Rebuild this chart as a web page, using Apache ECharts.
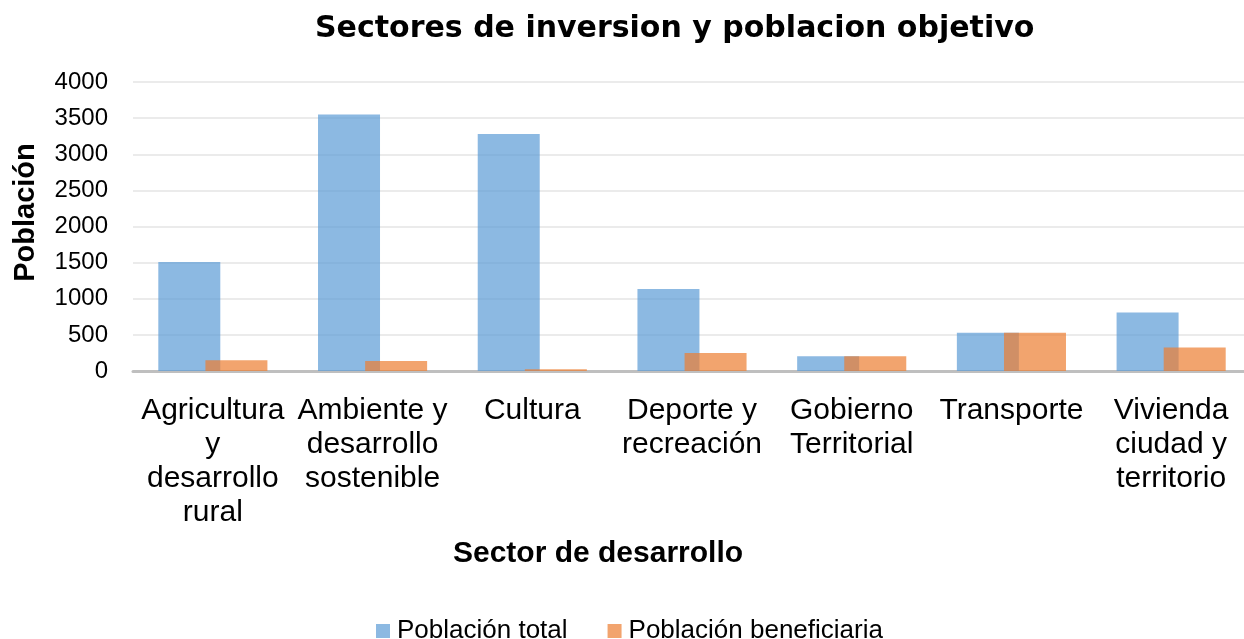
<!DOCTYPE html>
<html>
<head>
<meta charset="utf-8">
<script src="https://cdn.jsdelivr.net/npm/echarts@6/dist/echarts.min.js"></script>
<style>
  html, body { margin: 0; padding: 0; background: #fff; }
  #chart { width: 1244px; height: 639px; }
</style>
</head>
<body>
<div id="chart"></div>
<script>
// sectores y valores
const sectores = [
  "Agricultura\ny\ndesarrollo\nrural",
  "Ambiente y\ndesarrollo\nsostenible",
  "Cultura",
  "Deporte y\nrecreación",
  "Gobierno\nTerritorial",
  "Transporte",
  "Vivienda\nciudad y\nterritorio"
];
const poblacionTotal = [1510, 3550, 3280, 1135, 205, 530, 810];
const poblacionBeneficiaria = [150, 140, 25, 250, 205, 530, 325];

const chart = echarts.init(document.getElementById("chart"));
const font = "Liberation Sans, Arial, sans-serif";

const option = {
  animation: false,
  title: {
    text: "Sectores de inversion y poblacion objetivo",
    left: 310,
    top: 9,
    textStyle: { fontFamily: "DejaVu Sans", fontSize: 30, fontWeight: "bold", color: "#000" }
  },
  grid: { left: 133, width: 1118, top: 82, bottom: 268, containLabel: false, outerBoundsMode: "none" },
  legend: {
    bottom: -10,
    left: 371,
    icon: "rect",
    itemWidth: 14,
    itemHeight: 14,
    itemGap: 40,
    textStyle: { fontFamily: font, fontSize: 26, color: "#000", padding: [0, 0, 0, 2] },
    data: ["Población total", "Población beneficiaria"]
  },
  xAxis: {
    type: "category",
    data: sectores,
    name: "Sector de desarrollo",
    nameLocation: "middle",
    nameGap: 168,
    nameTextStyle: { fontFamily: font, fontSize: 30, fontWeight: "bold", color: "#000", padding: [0, 188, 0, 0] },
    axisLine: { lineStyle: { color: "#bfbfbf", width: 3 } },
    axisTick: { show: false },
    axisLabel: { fontFamily: font, fontSize: 30, color: "#000", lineHeight: 34, margin: 23, interval: 0 }
  },
  yAxis: {
    type: "value",
    min: 0,
    max: 4000,
    interval: 500,
    name: "Población",
    nameLocation: "middle",
    nameGap: 93,
    nameTextStyle: { fontFamily: font, fontSize: 29, fontWeight: "bold", color: "#000", padding: [0, 0, 0, 28] },
    axisLine: { show: false },
    axisTick: { show: false },
    axisLabel: { fontFamily: font, fontSize: 24, color: "#000", margin: 25, formatter: (v) => String(v) },
    splitLine: { lineStyle: { color: "#ebebeb", width: 2 } }
  },
  series: [
    {
      name: "Población total",
      type: "bar",
      data: poblacionTotal,
      barWidth: 62,
      barGap: "-24%",
      itemStyle: { color: "#5B9BD5", opacity: 0.7 }
    },
    {
      name: "Población beneficiaria",
      type: "bar",
      data: poblacionBeneficiaria,
      barWidth: 62,
      itemStyle: { color: "#ED7D31", opacity: 0.7 }
    }
  ]
};

chart.setOption(option);
</script>
</body>
</html>
